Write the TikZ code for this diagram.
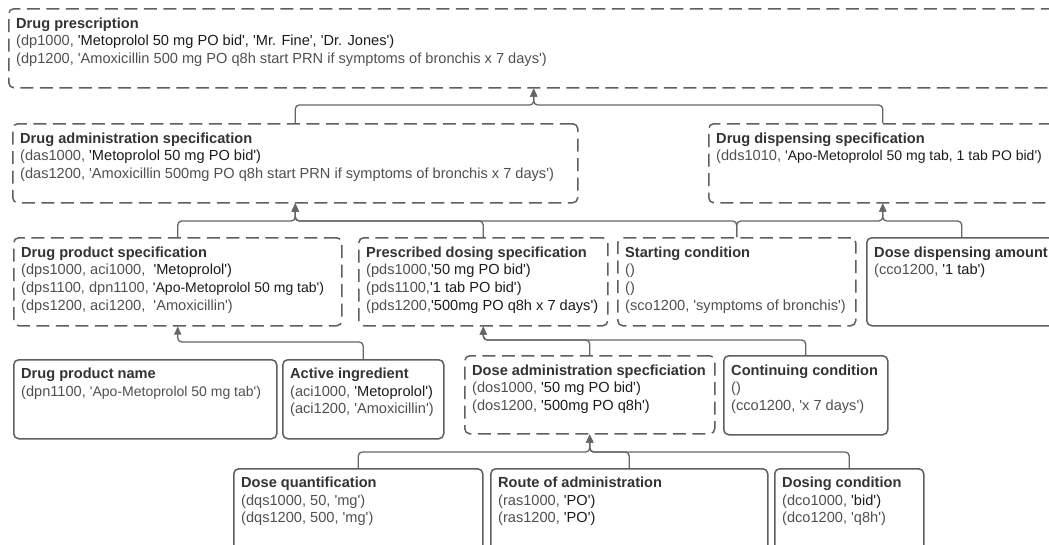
\documentclass[tikz,border=0pt]{standalone}
\usepackage{fontspec}
\setmainfont{Liberation Sans}[Ligatures=TeXOff]
\usetikzlibrary{arrows.meta,calc}
\definecolor{boxline}{HTML}{5F5F5F}
\definecolor{connline}{HTML}{666666}
\definecolor{idgray}{HTML}{505050}
\definecolor{valblack}{HTML}{1C1C1C}
\definecolor{hdrcol}{HTML}{333333}
\newcommand\vl[1]{\textcolor{valblack}{#1}}
\newcommand\apo[1]{{\fontsize{14.0}{17.6}\selectfont #1}}
\newcommand\hdr[1]{\textcolor{hdrcol}{\bfseries #1}}
\begin{document}
\begin{tikzpicture}[x=1pt,y=1pt,
  card/.style={draw=boxline, line width=1.5pt, rounded corners=5pt, anchor=north west, inner sep=0pt},
  dcard/.style={card, dash pattern=on 13pt off 6.5pt},
  txt/.style={anchor=north west, align=left, inner sep=0pt, text=idgray,
    font=\fontsize{14.6}{17.6}\selectfont},
  conn/.style={draw=connline, line width=1.3pt, rounded corners=4pt,
    -{Triangle[length=8pt,width=7pt]}}]
\useasboundingbox (0,0) rectangle (1049,-544);
\fill[white] (0,0) rectangle (1049,-544);
\clip (0,0) rectangle (1049,-544);

% boxes
\node[dcard, minimum width=1050pt, minimum height=79pt] (dp) at (8,-8) {};
\node[dcard, minimum width=565pt, minimum height=79pt] (das) at (12,-123) {};
\node[dcard, minimum width=348pt, minimum height=79pt] (dds) at (708,-123) {};
\node[dcard, minimum width=328pt, minimum height=88pt] (dps) at (13,-237) {};
\node[dcard, minimum width=249pt, minimum height=88pt] (pds) at (358,-237) {};
\node[dcard, minimum width=238pt, minimum height=88pt] (sc) at (617,-237) {};
\node[card, minimum width=190pt, minimum height=88pt] (dda) at (866,-237) {};
\node[card, minimum width=263pt, minimum height=79pt] (dpn) at (13,-359) {};
\node[card, minimum width=161pt, minimum height=79pt] (ai) at (282,-359) {};
\node[dcard, minimum width=250pt, minimum height=78pt] (dos) at (464,-355) {};
\node[card, minimum width=164pt, minimum height=79pt] (cc) at (723,-355) {};
\node[card, minimum width=249pt, minimum height=95pt] (dq) at (233,-468) {};
\node[card, minimum width=277pt, minimum height=95pt] (ra) at (490,-468) {};
\node[card, minimum width=149pt, minimum height=95pt] (dc) at (774,-468) {};

% texts
\node[txt] (dpt) at ($(dp.north west)+(8,-9.5)$) {\hdr{Drug prescription}\\
(dp1000, \vl{'Metoprolol 50 mg PO bid', 'Mr. Fine', 'Dr. Jones')}\\
(dp1200, 'Amoxicillin 500 mg PO q8h start PRN if symptoms of bronchis x 7 days')};
\node[txt] (dast) at ($(das.north west)+(8,-9.5)$) {\hdr{Drug administration specification}\\
(das1000, \vl{'Metoprolol 50 mg PO bid')}\\
(das1200, 'Amoxicillin 500mg PO q8h start PRN if symptoms of bronchis x 7 days')};
\node[txt] (ddst) at ($(dds.north west)+(8,-9.5)$) {\hdr{Drug dispensing specification}\\
(dds1010, \vl{\apo{'Apo-Metoprolol 50 mg tab, 1 tab PO bid')}}};
\node[txt] (dpst) at ($(dps.north west)+(8,-9.5)$) {\hdr{Drug product specification}\\
(dps1000, aci1000,\ \ \vl{'Metoprolol')}\\
(dps1100, dpn1100, \vl{\apo{'Apo-Metoprolol 50 mg tab')}}\\
(dps1200, aci1200,\ \ 'Amoxicillin')};
\node[txt] (pdst) at ($(pds.north west)+(8,-9.5)$) {\hdr{Prescribed dosing specification}\\
(pds1000,\vl{'50 mg PO bid')}\\
(pds1100,\vl{'1 tab PO bid')}\\
(pds1200,\vl{'500mg PO q8h x 7 days')}};
\node[txt] (sct) at ($(sc.north west)+(8,-9.5)$) {\hdr{Starting condition}\\
()\\
()\\
(sco1200, 'symptoms of bronchis')};
\node[txt] (ddat) at ($(dda.north west)+(8,-9.5)$) {\hdr{Dose dispensing amount}\\
(cco1200, \vl{'1 tab')}};
\node[txt] (dpnt) at ($(dpn.north west)+(8,-9)$) {\hdr{Drug product name}\\
(dpn1100, \apo{'Apo-Metoprolol 50 mg tab')}};
\node[txt] (ait) at ($(ai.north west)+(8,-9)$) {\hdr{Active ingredient}\\
(aci1000, \vl{'Metoprolol')}\\
(aci1200, 'Amoxicillin')};
\node[txt] (dost) at ($(dos.north west)+(8,-9.5)$) {\hdr{Dose administration specficiation}\\
(dos1000, \vl{'50 mg PO bid')}\\
(dos1200, \vl{'500mg PO q8h')}};
\node[txt] (cct) at ($(cc.north west)+(8,-9.5)$) {\hdr{Continuing condition}\\
()\\
(cco1200, 'x 7 days')};
\node[txt] (dqt) at ($(dq.north west)+(8,-9)$) {\hdr{Dose quantification}\\
(dqs1000, 50, 'mg')\\
(dqs1200, 500, 'mg')};
\node[txt] (rat) at ($(ra.north west)+(8,-9)$) {\hdr{Route of administration}\\
(ras1000, \vl{'PO')}\\
(ras1200, \vl{'PO')}};
\node[txt] (dct) at ($(dc.north west)+(8,-9)$) {\hdr{Dosing condition}\\
(dco1000, \vl{'bid')}\\
(dco1200, 'q8h')};

% connectors
\draw[conn] (das.north) -- ++(0,18) -| (dp.south);
\draw[conn] (dds.north) -- ++(0,18) -| (dp.south);
\draw[conn] (dps.north) -- ++(0,16) -| (das.south);
\draw[conn] (pds.north) -- ++(0,16) -| (das.south);
\draw[conn] (sc.north) -- ++(0,16) -| (das.south);
\draw[conn] (sc.north) -- ++(0,16) -| (dds.south);
\draw[conn] (dda.north) -- ++(0,16) -| (dds.south);
\draw[conn] (ai.north) -- ++(0,17) -| (dps.south);
\draw[conn] (dos.north) -- ++(0,15) -| (pds.south);
\draw[conn] (cc.north) -- ++(0,15) -| (pds.south);
\draw[conn] (dq.north) -- ++(0,16) -| (dos.south);
\draw[conn] (ra.north) -- ++(0,16) -| (dos.south);
\draw[conn] (dc.north) -- ++(0,16) -| (dos.south);
\end{tikzpicture}
\end{document}
